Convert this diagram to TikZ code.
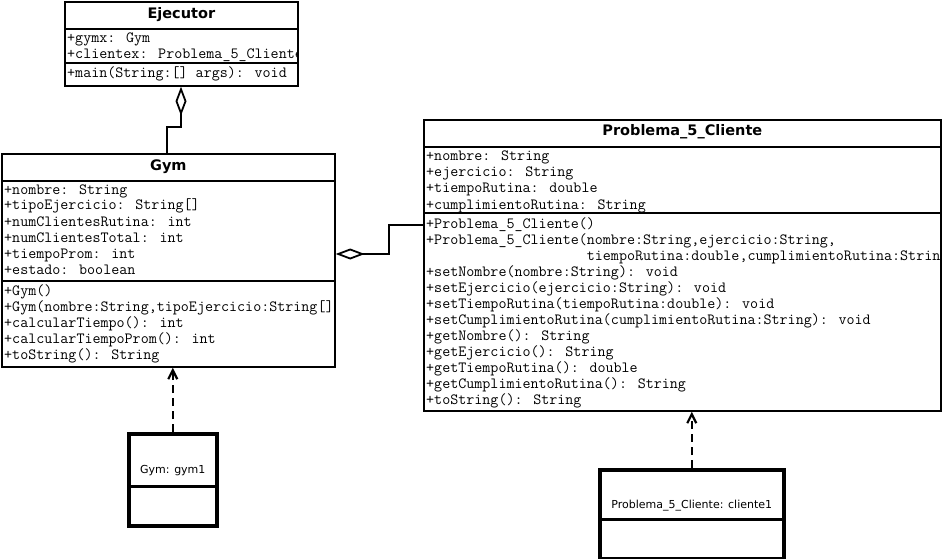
\documentclass[tikz,border=0pt]{standalone}
\usepackage{fontspec}
\setsansfont{DejaVu Sans}
\usetikzlibrary{arrows.meta,calc}
\tikzset{
  classbox/.style={draw, line width=1.7pt, anchor=north west, inner sep=0pt},
  objbox/.style={draw, line width=3.6pt, anchor=north west, inner sep=0pt},
  rule/.style={line width=1.7pt},
  objrule/.style={line width=3pt},
  member/.style={font=\fontsize{15.6}{16}\ttfamily, anchor=west, inner sep=0pt,
                 text height=10pt, text depth=0pt},
  classtitle/.style={font=\fontsize{14.5}{16}\sffamily\bfseries, inner sep=0pt},
  objlabel/.style={font=\fontsize{11}{13}\sffamily, inner sep=0pt},
  aggregation/.style={line width=1.8pt, {Diamond[open,length=29pt,width=11pt]}-},
  realization/.style={line width=2.2pt, dash pattern=on 8pt off 5pt,
                      -{Straight Barb[length=9pt,width=9pt]}},
}
\begin{document}
\begin{tikzpicture}[x=1pt,y=-1pt]
\useasboundingbox (0,0) rectangle (943,559);
\fill[white] (0,0) rectangle (943,559);

% ---------- class Ejecutor ----------
\node[classbox, minimum width=233pt, minimum height=84pt] (ejec) at (64,1) {};
\node[classtitle] (ejecT) at ($(ejec.north)+(0,14)$) {Ejecutor};
\draw[rule] ($(ejec.north west)+(0,28)$) -- ($(ejec.north east)+(0,28)$);
\draw[rule] ($(ejec.north west)+(0,62)$) -- ($(ejec.north east)+(0,62)$);
\begin{scope}
  \clip (ejec.north west) rectangle (ejec.south east);
  \node[member] (ejecA1) at ($(ejec.north west)+(3,37)$) {+gymx: Gym};
  \node[member] (ejecA2) at ($(ejec.north west)+(3,53)$) {+clientex: Problema\_5\_Cliente};
  \node[member] (ejecM1) at ($(ejec.north west)+(3,72)$) {+main(String:[] args): void};
\end{scope}

% ---------- class Gym ----------
\node[classbox, minimum width=333pt, minimum height=213pt] (gym) at (1,153) {};
\node[classtitle] (gymT) at ($(gym.north)+(0,14)$) {Gym};
\draw[rule] ($(gym.north west)+(0,28)$) -- ($(gym.north east)+(0,28)$);
\draw[rule] ($(gym.north west)+(0,128)$) -- ($(gym.north east)+(0,128)$);
\begin{scope}
  \clip (gym.north west) rectangle (gym.south east);
  \foreach \t [count=\i from 0] in {{+nombre: String},{+tipoEjercicio: String[]},
      {+numClientesRutina: int},{+numClientesTotal: int},{+tiempoProm: int},
      {+estado: boolean}}
    \node[member] (gymA\i) at ($(gym.north west)+(3,36+16*\i)$) {\t};
  \foreach \t [count=\i from 0] in {{+Gym()},{+Gym(nombre:String,tipoEjercicio:String[])},
      {+calcularTiempo(): int},{+calcularTiempoProm(): int},{+toString(): String}}
    \node[member] (gymM\i) at ($(gym.north west)+(3,137+16*\i)$) {\t};
\end{scope}

% ---------- class Problema_5_Cliente ----------
\node[classbox, minimum width=517pt, minimum height=291pt] (prob) at (423,119) {};
\node[classtitle] (probT) at ($(prob.north)+(0,13)$) {Problema\_5\_Cliente};
\draw[rule] ($(prob.north west)+(0,28)$) -- ($(prob.north east)+(0,28)$);
\draw[rule] ($(prob.north west)+(0,94)$) -- ($(prob.north east)+(0,94)$);
\begin{scope}
  \clip (prob.north west) rectangle (prob.south east);
  \foreach \t [count=\i from 0] in {{+nombre: String},{+ejercicio: String},
      {+tiempoRutina: double},{+cumplimientoRutina: String}}
    \node[member] (probA\i) at ($(prob.north west)+(3,37+16*\i)$) {\t};
  \foreach \t [count=\i from 0] in {{+Problema\_5\_Cliente()},
      {+Problema\_5\_Cliente(nombre:String,ejercicio:String,},
      {\phantom{+Problema\_5\_Cliente(}tiempoRutina:double,cumplimientoRutina:String)},
      {+setNombre(nombre:String): void},
      {+setEjercicio(ejercicio:String): void},
      {+setTiempoRutina(tiempoRutina:double): void},
      {+setCumplimientoRutina(cumplimientoRutina:String): void},
      {+getNombre(): String},
      {+getEjercicio(): String},
      {+getTiempoRutina(): double},
      {+getCumplimientoRutina(): String},
      {+toString(): String}}
    \node[member] (probM\i) at ($(prob.north west)+(3,104+16*\i)$) {\t};
\end{scope}

% ---------- objects ----------
\node[objbox, minimum width=88pt, minimum height=92pt] (gymobj) at (127,432) {};
\draw[objrule] ($(gymobj.north west)+(0,54)$) -- ($(gymobj.north east)+(0,54)$);
\node[objlabel] (gymobjT) at ($(gymobj.north)+(0,39)$) {Gym: gym1};

\node[objbox, minimum width=184pt, minimum height=89pt] (probobj) at (598,468) {};
\draw[objrule] ($(probobj.north west)+(0,51)$) -- ($(probobj.north east)+(0,51)$);
\node[objlabel] (probobjT) at ($(probobj.north)+(0,38)$) {Problema\_5\_Cliente: cliente1};

% ---------- connectors ----------
\draw[aggregation] ($(ejec.south west)+(117,0)$) -- ++(0,40) -| ($(gym.north west)+(166,0)$);
\draw[aggregation] ($(gym.north east)+(0,101)$) -- ++(53,0) |- ($(prob.north west)+(0,106)$);
\draw[realization] (gymobj.north) -- (gym.south -| gymobj.north);
\draw[realization] (probobj.north) -- (prob.south -| probobj.north);
\end{tikzpicture}
\end{document}
